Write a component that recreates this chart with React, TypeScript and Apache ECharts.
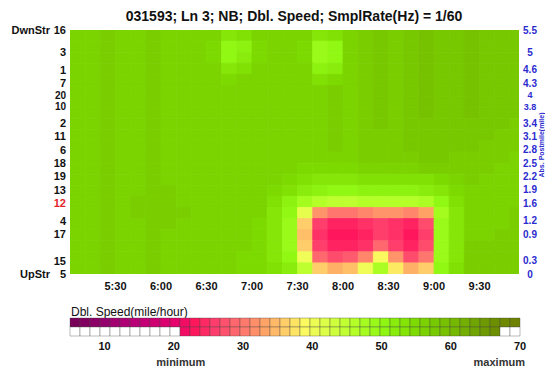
import React, { useEffect, useRef } from 'react';
import * as echarts from 'echarts';

const FONT = '"Liberation Sans", Arial, Helvetica, sans-serif';

const TITLE = '031593; Ln 3; NB; Dbl. Speed; SmplRate(Hz) = 1/60';
const LEGEND_TITLE = 'Dbl. Speed(mile/hour)';

// detectors (left labels) and their postmiles (right labels)
const DETECTOR_IDS = ['16', '3', '1', '7', '20', '10', '2', '11', '6', '18', '19', '13', '12', '4', '17', '15', '5'];
const DETECTOR_POSTMILES = [5.5, 5, 4.6, 4.3, 4, 3.8, 3.4, 3.1, 2.8, 2.5, 2.2, 1.9, 1.6, 1.2, 0.9, 0.3, 0];
const HIGHLIGHT_DETECTOR = '12';
// tightly spaced labels: nudged apart a little so they do not collide
const NUDGE_UP_PM = 4;
const NUDGE_DOWN_PM = 3.8;

// time axis, minutes after midnight
const TIME_START = 300; // 5:00
const TIME_END = 596; // ~9:56
const TIME_TICK = 30;
const TIME_STEP = 10; // minutes per cell
const PM_STEP = 0.25; // miles per cell
const PM_MAX = 5.5;

// speed grid (mph), rows from top (5.25-5.5 mi) to bottom (0-0.25 mi), columns 5:00, 5:10, ... 9:50
const SPEED_ROWS: number[][] = [
  [56, 56, 57, 56, 56, 57, 56, 56, 56, 56, 53, 54, 56, 56, 56, 56, 53, 54, 56, 57, 58, 57, 58, 59, 58, 58, 59, 58, 58, 58],
  [56, 56, 57, 56, 56, 57, 56, 56, 56, 55, 50, 51, 55, 56, 56, 55, 49, 50, 56, 57, 58, 57, 58, 59, 58, 58, 59, 58, 58, 58],
  [56, 56, 57, 56, 56, 57, 56, 56, 56, 55, 50, 52, 55, 56, 56, 55, 49, 50, 56, 57, 58, 57, 58, 59, 58, 58, 59, 58, 58, 58],
  [56, 56, 57, 56, 56, 57, 56, 56, 56, 56, 53, 54, 56, 56, 56, 56, 51, 52, 56, 57, 58, 57, 58, 59, 58, 58, 59, 58, 58, 58],
  [56, 56, 57, 56, 56, 57, 56, 56, 56, 56, 55, 56, 56, 56, 56, 56, 54, 55, 56, 57, 58, 57, 58, 59, 58, 58, 59, 58, 58, 58],
  [56, 56, 57, 56, 56, 57, 56, 56, 56, 56, 56, 56, 56, 56, 56, 56, 56, 57, 56, 57, 58, 57, 58, 59, 58, 58, 59, 58, 58, 58],
  [56, 56, 57, 56, 56, 57, 56, 56, 56, 56, 56, 56, 56, 56, 56, 56, 56, 57, 56, 57, 58, 57, 58, 59, 58, 58, 59, 58, 58, 58],
  [56, 56, 57, 56, 56, 57, 56, 56, 56, 56, 56, 56, 56, 56, 56, 56, 56, 57, 56, 57, 58, 57, 58, 59, 58, 58, 59, 58, 58, 58],
  [56, 56, 57, 56, 56, 57, 56, 56, 56, 56, 56, 56, 56, 56, 56, 56, 56, 57, 56, 57, 58, 57, 58, 58, 58, 58, 58, 58, 58, 57],
  [56, 56, 57, 56, 56, 57, 56, 56, 56, 56, 56, 56, 56, 56, 56, 56, 56, 57, 56, 57, 57, 57, 58, 58, 58, 58, 58, 58, 57, 57],
  [56, 56, 57, 56, 56, 57, 56, 56, 56, 56, 56, 56, 56, 56, 56, 56, 56, 57, 56, 57, 57, 57, 58, 58, 58, 58, 58, 57, 57, 57],
  [56, 56, 57, 56, 56, 57, 56, 56, 56, 56, 56, 56, 56, 56, 56, 56, 56, 56, 56, 57, 57, 57, 57, 58, 58, 57, 57, 57, 57, 56],
  [56, 56, 57, 56, 56, 57, 56, 56, 56, 56, 56, 56, 56, 56, 56, 55, 55, 55, 55, 56, 56, 56, 56, 57, 57, 57, 57, 57, 56, 56],
  [56, 56, 57, 56, 56, 57, 56, 56, 56, 56, 56, 56, 56, 56, 55, 54, 53, 53, 53, 54, 54, 54, 54, 54, 55, 56, 57, 56, 56, 56],
  [56, 56, 57, 56, 56, 57, 57, 56, 56, 56, 56, 56, 56, 55, 54, 52, 51, 50, 50, 51, 51, 51, 51, 52, 53, 55, 56, 56, 56, 56],
  [56, 56, 57, 56, 57, 57, 57, 56, 56, 56, 56, 56, 56, 54, 51, 48, 46, 45, 45, 46, 46, 46, 46, 47, 50, 54, 56, 56, 56, 56],
  [56, 56, 57, 56, 57, 57, 57, 57, 56, 56, 56, 56, 56, 53, 50, 41, 32, 30, 30, 31, 32, 32, 31, 33, 48, 53, 56, 56, 56, 57],
  [56, 56, 57, 56, 56, 57, 57, 56, 56, 56, 56, 56, 55, 53, 49, 36, 26, 24, 24, 25, 26, 25, 24, 27, 49, 53, 56, 56, 56, 57],
  [56, 56, 57, 56, 56, 57, 56, 56, 56, 56, 56, 56, 55, 53, 49, 35, 25, 23, 23, 24, 26, 25, 23, 26, 49, 53, 56, 56, 57, 57],
  [56, 56, 57, 56, 56, 57, 56, 56, 56, 56, 56, 56, 55, 53, 49, 36, 26, 24, 24, 25, 29, 26, 24, 27, 49, 53, 57, 57, 57, 57],
  [56, 56, 57, 56, 56, 57, 56, 56, 56, 56, 56, 55, 55, 53, 50, 40, 29, 27, 28, 31, 39, 32, 27, 30, 49, 53, 57, 57, 57, 57],
  [56, 56, 57, 56, 56, 57, 56, 56, 56, 56, 56, 55, 55, 54, 52, 45, 36, 34, 35, 40, 47, 38, 34, 36, 50, 54, 57, 57, 57, 57],
];

// colour legend
const LEGEND_MIN = 5;
const LEGEND_MAX = 70;
const LEGEND_CELLS = 45;
const LEGEND_TICK = 10;
const SPEED_MIN = 21; // "minimum"
const SPEED_MAX = 67; // "maximum"
const LEGEND_MARKS = [SPEED_MIN, SPEED_MAX];
const LEGEND_MARK_LABELS = ['minimum', 'maximum'];

const COLOR_STOPS: [number, [number, number, number]][] = [
  [5, [115, 0, 85]],
  [10, [150, 0, 110]],
  [15, [190, 0, 120]],
  [20, [230, 0, 110]],
  [23, [255, 22, 92]],
  [26, [255, 62, 108]],
  [30, [255, 118, 110]],
  [33, [255, 162, 102]],
  [36, [255, 205, 105]],
  [39, [250, 250, 95]],
  [42, [220, 255, 70]],
  [46, [180, 255, 40]],
  [50, [145, 248, 20]],
  [55, [125, 218, 0]],
  [58, [120, 200, 0]],
  [62, [115, 175, 0]],
  [66, [108, 145, 0]],
  [70, [112, 125, 0]],
];

function speedColor(v: number): string {
  const s = COLOR_STOPS;
  const fmt = (c: number[]) => `rgb(${Math.round(c[0])},${Math.round(c[1])},${Math.round(c[2])})`;
  if (v <= s[0][0]) return fmt(s[0][1]);
  for (let i = 1; i < s.length; i++) {
    if (v <= s[i][0]) {
      const [a, ca] = s[i - 1];
      const [b, cb] = s[i];
      const f = (v - a) / (b - a);
      return fmt([0, 1, 2].map((k) => ca[k] + (cb[k] - ca[k]) * f));
    }
  }
  return fmt(s[s.length - 1][1]);
}

function timeLabel(v: number): string {
  const m = Math.round(v);
  if (m % TIME_TICK !== 0 || m === TIME_START) return '';
  const h = Math.floor(m / 60);
  const mm = m % 60;
  return `${h}:${mm < 10 ? '0' : ''}${mm}`;
}

function findDetector(v: number): number {
  const k = Math.round(v * 10);
  return DETECTOR_POSTMILES.findIndex((p) => Math.round(p * 10) === k);
}

function nudgeStyle(pm: number): string {
  if (Math.round(pm * 10) === Math.round(NUDGE_UP_PM * 10)) return 'u';
  if (Math.round(pm * 10) === Math.round(NUDGE_DOWN_PM * 10)) return 'd';
  return 'n';
}

export default function App() {
  const ref = useRef<HTMLDivElement>(null);

  useEffect(() => {
    if (!ref.current) return;
    const chart = echarts.init(ref.current, undefined, { renderer: 'svg' });

    const rows = SPEED_ROWS.length;
    const cells: number[][] = [];
    SPEED_ROWS.forEach((row, i) => {
      const pm = (rows - 1 - i) * PM_STEP;
      row.forEach((v, j) => {
        cells.push([TIME_START + j * TIME_STEP, pm, v]);
      });
    });

    const legendCells: number[][] = [];
    const w = (LEGEND_MAX - LEGEND_MIN) / LEGEND_CELLS;
    for (let i = 0; i < LEGEND_CELLS; i++) {
      legendCells.push([LEGEND_MIN + i * w, LEGEND_MIN + (i + 1) * w]);
    }

    const boldLabel = { fontFamily: FONT, fontWeight: 'bold' as const, fontSize: 11, color: '#111' };

    const leftBase = { fontFamily: FONT, fontWeight: 'bold', fontSize: 11, lineHeight: 11, color: '#111' };
    const leftRed = { ...leftBase, color: '#e3242b' };
    const rightBase = { fontFamily: FONT, fontWeight: 'bold', fontSize: 10, lineHeight: 10, color: '#2b2bd0' };

    const option: any = {
      animation: false,
      backgroundColor: '#fff',
      grid: [
        { left: 70, top: 30, width: 449, height: 244 },
        { left: 70, top: 318, width: 450, height: 18 },
      ],
      xAxis: [
        {
          gridIndex: 0,
          type: 'value',
          min: TIME_START,
          max: TIME_END,
          interval: TIME_TICK,
          axisLine: { show: false },
          axisTick: { show: false },
          splitLine: { show: false },
          axisLabel: { ...boldLabel, margin: 6, formatter: timeLabel, showMinLabel: true, showMaxLabel: true },
        },
        {
          gridIndex: 1,
          type: 'value',
          min: LEGEND_MIN,
          max: LEGEND_MAX,
          interval: 5,
          axisLine: { show: false },
          axisTick: { show: false },
          splitLine: { show: false },
          axisLabel: {
            ...boldLabel,
            margin: 4,
            formatter: (v: number) => (Math.round(v) % LEGEND_TICK === 0 ? String(Math.round(v)) : ''),
          },
        },
      ],
      yAxis: [
        {
          gridIndex: 0,
          type: 'value',
          position: 'left',
          min: 0,
          max: PM_MAX,
          interval: 0.1,
          axisLine: { show: false },
          axisTick: { show: false },
          splitLine: { show: false },
          axisLabel: {
            ...boldLabel,
            margin: 4,
            formatter: (v: number) => {
              const idx = findDetector(v);
              if (idx < 0) return '';
              const id = DETECTOR_IDS[idx];
              const red = id === HIGHLIGHT_DETECTOR ? 'r' : '';
              return `{${nudgeStyle(v)}${red}|${id}}`;
            },
            rich: {
              n: { ...leftBase },
              u: { ...leftBase, fontSize: 10, padding: [0, 0, 3, 0] },
              d: { ...leftBase, fontSize: 10, padding: [3, 0, 0, 0] },
              nr: { ...leftRed },
              ur: { ...leftRed, padding: [0, 0, 3, 0] },
              dr: { ...leftRed, padding: [3, 0, 0, 0] },
            },
          },
        },
        {
          gridIndex: 0,
          type: 'value',
          position: 'right',
          min: 0,
          max: PM_MAX,
          interval: 0.1,
          axisLine: { show: false },
          axisTick: { show: false },
          splitLine: { show: false },
          axisLabel: {
            ...rightBase,
            margin: 11,
            align: 'center',
            formatter: (v: number) => {
              const idx = findDetector(v);
              return idx < 0 ? '' : `{${nudgeStyle(v)}|${DETECTOR_POSTMILES[idx]}}`;
            },
            rich: {
              n: { ...rightBase, align: 'center' },
              u: { ...rightBase, fontSize: 9, align: 'center', padding: [0, 0, 3, 0] },
              d: { ...rightBase, fontSize: 9, align: 'center', padding: [3, 0, 0, 0] },
            },
          },
        },
        { gridIndex: 1, type: 'value', min: 0, max: 2, show: false },
      ],
      series: [
        {
          type: 'custom',
          xAxisIndex: 0,
          yAxisIndex: 0,
          clip: true,
          data: cells,
          renderItem: (_p: any, api: any) => {
            const t = api.value(0);
            const pm = api.value(1);
            const v = api.value(2);
            const p0 = api.coord([t, pm + PM_STEP]);
            const p1 = api.coord([t + TIME_STEP, pm]);
            const c = speedColor(v);
            return {
              type: 'rect',
              shape: { x: p0[0], y: p0[1], width: p1[0] - p0[0], height: p1[1] - p0[1] },
              style: { fill: c, stroke: c, lineWidth: 0.8 },
            };
          },
        },
        {
          type: 'custom',
          xAxisIndex: 1,
          yAxisIndex: 2,
          data: legendCells,
          renderItem: (_p: any, api: any) => {
            const lo = api.value(0);
            const hi = api.value(1);
            const mid = (lo + hi) / 2;
            const a = api.coord([lo, 2]);
            const b = api.coord([hi, 1]);
            const c = api.coord([hi, 0]);
            const col = speedColor(mid);
            const inRange = mid >= SPEED_MIN && mid <= SPEED_MAX;
            const stroke = 'rgba(70,70,70,0.75)';
            return {
              type: 'group',
              children: [
                {
                  type: 'rect',
                  shape: { x: a[0], y: a[1], width: b[0] - a[0], height: b[1] - a[1] },
                  style: { fill: col, stroke, lineWidth: 0.5 },
                },
                {
                  type: 'rect',
                  shape: { x: a[0], y: b[1], width: b[0] - a[0], height: c[1] - b[1] },
                  style: { fill: inRange ? col : '#ffffff', stroke, lineWidth: 0.5 },
                },
              ],
            };
          },
        },
        {
          type: 'custom',
          xAxisIndex: 1,
          yAxisIndex: 2,
          data: LEGEND_MARKS.map((v) => [v, 0]),
          renderItem: (params: any, api: any) => {
            const p = api.coord([api.value(0), 0]);
            return {
              type: 'text',
              x: p[0],
              y: p[1] + 26,
              style: {
                text: LEGEND_MARK_LABELS[params.dataIndex],
                fill: '#333',
                font: `bold 11px ${FONT}`,
                align: 'center',
                verticalAlign: 'middle',
              },
            };
          },
        },
      ],
      graphic: [
        {
          type: 'text',
          x: 294,
          y: 16,
          style: { text: TITLE, fill: '#111', font: `bold 14px ${FONT}`, align: 'center', verticalAlign: 'middle' },
        },
        {
          type: 'text',
          x: 50,
          y: 30,
          style: { text: 'DwnStr', fill: '#111', font: `bold 11px ${FONT}`, align: 'right', verticalAlign: 'middle' },
        },
        {
          type: 'text',
          x: 50,
          y: 274,
          style: { text: 'UpStr', fill: '#111', font: `bold 11px ${FONT}`, align: 'right', verticalAlign: 'middle' },
        },
        {
          type: 'text',
          x: 71,
          y: 312,
          style: { text: LEGEND_TITLE, fill: '#111', font: `12px ${FONT}`, align: 'left', verticalAlign: 'middle' },
        },
        {
          type: 'text',
          x: 541,
          y: 145,
          rotation: Math.PI / 2,
          style: { text: 'Abs. Postmile(mile)', fill: '#2b2bd0', font: `bold 7px ${FONT}`, align: 'center', verticalAlign: 'middle' },
        },
      ],
    };

    chart.setOption(option);
    return () => chart.dispose();
  }, []);

  return (
    <div
      ref={ref}
      style={{ position: 'fixed', left: 0, top: 0, width: 545, height: 370, background: '#fff' }}
    />
  );
}
